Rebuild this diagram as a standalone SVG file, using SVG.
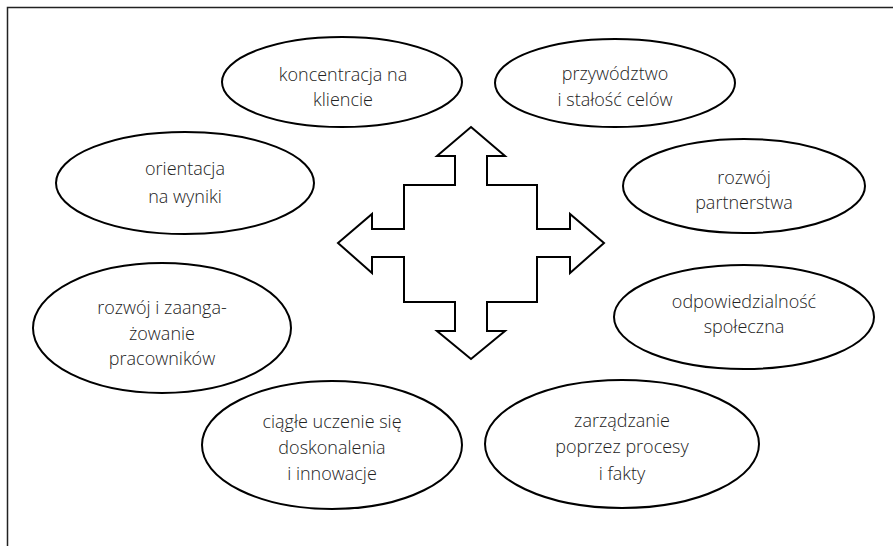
<svg xmlns="http://www.w3.org/2000/svg" width="893" height="546" viewBox="0 0 893 546">
<style>
.node ellipse{fill:#fff;stroke:#000;stroke-width:2}
.node text{font-family:"Open Sans","Liberation Sans",sans-serif;font-weight:300;font-size:18px;fill:#222;text-anchor:middle}
.frame{fill:none;stroke:#222;stroke-width:1.5}
.arrow{fill:#fff;stroke:#000;stroke-width:2;stroke-linejoin:miter}
</style>
<rect width="893" height="546" fill="#fff"/>
<path class="frame" d="M7.5,546 L7.5,7.5 L893,7.5"/>
<g id="connectors">
<path class="arrow" d="M471,127 L505,156 L487,156 L487,185 L537,185 L537,229 L570,229 L570,214 L604,243 L570,273 L570,257 L537,257 L537,302 L487,302 L487,331 L505,331 L471,359 L437,331 L455,331 L455,302 L404,302 L404,257 L372,257 L372,273 L338,243 L372,214 L372,229 L404,229 L404,185 L455,185 L455,156 L437,156 Z"/>
</g>
<g id="n1" class="node">
<ellipse cx="342" cy="82" rx="120" ry="45"/>
<text x="343" y="81">koncentracja na</text>
<text x="343" y="106">kliencie</text>
</g>
<g id="n2" class="node">
<ellipse cx="615" cy="83" rx="120" ry="44"/>
<text x="615" y="80">przywództwo</text>
<text x="615" y="106">i stałość celów</text>
</g>
<g id="n3" class="node">
<ellipse cx="744" cy="186" rx="121" ry="47"/>
<text x="744" y="184">rozwój</text>
<text x="744" y="209">partnerstwa</text>
</g>
<g id="n4" class="node">
<ellipse cx="744" cy="317" rx="130" ry="52"/>
<text x="744" y="308">odpowiedzialność</text>
<text x="744" y="333">społeczna</text>
</g>
<g id="n5" class="node">
<ellipse cx="622" cy="444" rx="137" ry="64"/>
<text x="622" y="427">zarządzanie</text>
<text x="622" y="453">poprzez procesy</text>
<text x="622" y="480">i fakty</text>
</g>
<g id="n6" class="node">
<ellipse cx="332" cy="445" rx="130" ry="64"/>
<text x="332" y="428">ciągłe uczenie się</text>
<text x="332" y="454">doskonalenia</text>
<text x="332" y="480">i innowacje</text>
</g>
<g id="n7" class="node">
<ellipse cx="162" cy="328" rx="129" ry="65"/>
<text x="162" y="314">rozwój i zaanga-</text>
<text x="162" y="340">żowanie</text>
<text x="162" y="365">pracowników</text>
</g>
<g id="n8" class="node">
<ellipse cx="185" cy="183" rx="129" ry="51"/>
<text x="185" y="175">orientacja</text>
<text x="185" y="203">na wyniki</text>
</g>
</svg>
